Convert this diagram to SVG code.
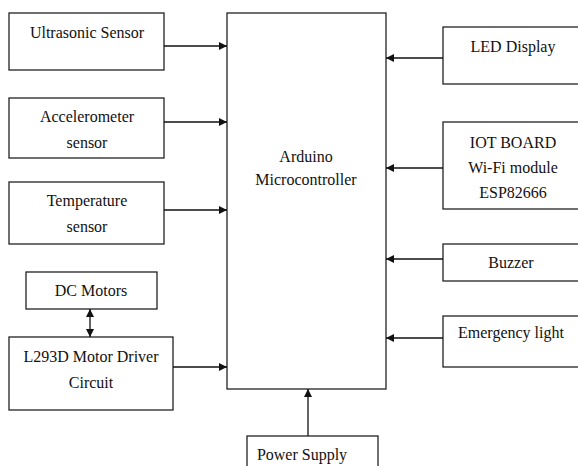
<svg xmlns="http://www.w3.org/2000/svg" width="578" height="466" viewBox="0 0 578 466">
<style>
.box{fill:#fff;stroke:#222;stroke-width:1.3}
.t{font-family:'Liberation Serif','DejaVu Serif',serif;font-size:16px;fill:#111;text-anchor:middle}
.c{stroke:#111;stroke-width:1.3;fill:none}
</style>
<defs>
<marker id="ah" viewBox="0 0 10 10" refX="10" refY="5" markerWidth="8" markerHeight="8" markerUnits="userSpaceOnUse" orient="auto-start-reverse">
<path d="M0,0 L10,5 L0,10 z" fill="#111"/>
</marker>
</defs>
<rect width="578" height="466" fill="#fff"/>
<g id="arduino"><rect class="box" x="227" y="13" width="159" height="376"/>
<text class="t" x="306" y="162">Arduino</text><text class="t" x="306" y="185">Microcontroller</text></g>
<g id="ultrasonic"><rect class="box" x="9" y="13" width="155" height="57"/><text class="t" x="87" y="38">Ultrasonic Sensor</text></g>
<g id="accelerometer"><rect class="box" x="9" y="98" width="155" height="60"/><text class="t" x="87" y="122">Accelerometer</text><text class="t" x="87" y="148">sensor</text></g>
<g id="temperature"><rect class="box" x="9" y="182" width="155" height="62"/><text class="t" x="87" y="206">Temperature</text><text class="t" x="87" y="232">sensor</text></g>
<g id="dcmotors"><rect class="box" x="26" y="272" width="131" height="37"/><text class="t" x="91" y="296">DC Motors</text></g>
<g id="l293d"><rect class="box" x="9" y="337" width="164" height="73"/><text class="t" x="91" y="362">L293D Motor Driver</text><text class="t" x="91" y="388">Circuit</text></g>
<g id="led"><rect class="box" x="443" y="27" width="140" height="57"/><text class="t" x="513" y="52">LED Display</text></g>
<g id="iot"><rect class="box" x="443" y="122" width="140" height="87"/><text class="t" x="513" y="148">IOT BOARD</text><text class="t" x="513" y="173">Wi-Fi module</text><text class="t" x="513" y="198">ESP82666</text></g>
<g id="buzzer"><rect class="box" x="443" y="244" width="140" height="37"/><text class="t" x="511" y="268">Buzzer</text></g>
<g id="emergency"><rect class="box" x="443" y="316" width="140" height="51"/><text class="t" x="511" y="338">Emergency light</text></g>
<g id="power"><rect class="box" x="247" y="436" width="131" height="40"/><text class="t" x="302" y="460">Power Supply</text></g>
<g id="connectors">
<line class="c" x1="164" y1="46" x2="227" y2="46" marker-end="url(#ah)"/>
<line class="c" x1="164" y1="122" x2="227" y2="122" marker-end="url(#ah)"/>
<line class="c" x1="164" y1="210" x2="227" y2="210" marker-end="url(#ah)"/>
<line class="c" x1="173" y1="367" x2="227" y2="367" marker-end="url(#ah)"/>
<line class="c" x1="90" y1="309" x2="90" y2="337" marker-start="url(#ah)" marker-end="url(#ah)"/>
<line class="c" x1="443" y1="58" x2="386" y2="58" marker-end="url(#ah)"/>
<line class="c" x1="443" y1="168" x2="386" y2="168" marker-end="url(#ah)"/>
<line class="c" x1="443" y1="259" x2="386" y2="259" marker-end="url(#ah)"/>
<line class="c" x1="443" y1="338" x2="386" y2="338" marker-end="url(#ah)"/>
<line class="c" x1="308" y1="436" x2="308" y2="389" marker-end="url(#ah)"/>
</g>
</svg>
